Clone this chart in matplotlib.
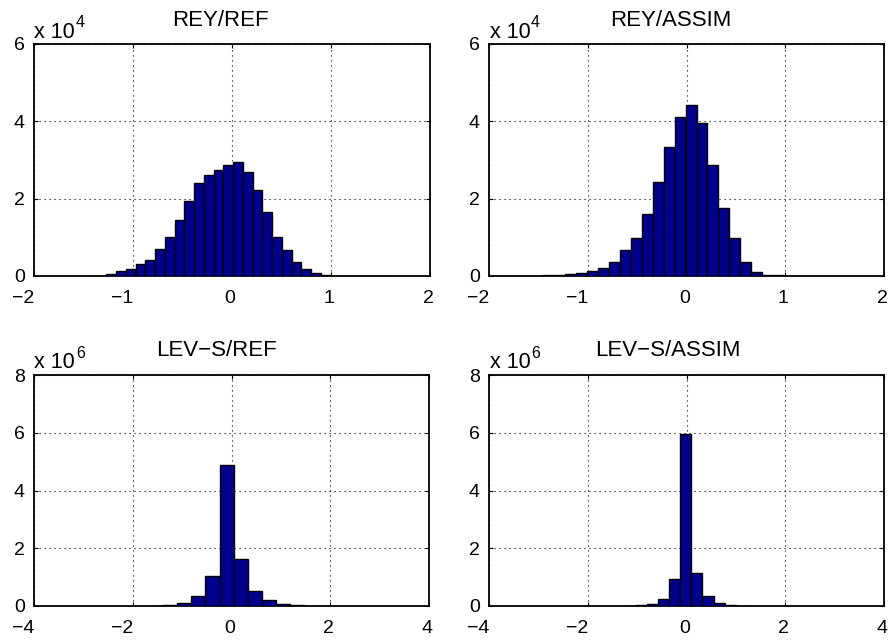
import matplotlib
matplotlib.use("Agg")
import matplotlib.pyplot as plt
from matplotlib.transforms import ScaledTranslation

plt.rcParams['font.family'] = ['Liberation Sans', 'DejaVu Sans']

# ---- data (counts in units of the axis multiplier) ----
rey_ref_centers = [-1.418, -1.319, -1.221, -1.122, -1.024, -0.925, -0.827, -0.728, -0.630,
                   -0.531, -0.433, -0.334, -0.236, -0.137, -0.039, 0.060, 0.158, 0.257,
                   0.355, 0.454, 0.552, 0.651, 0.749, 0.848, 0.946, 1.045, 1.143, 1.242,
                   1.340, 1.439, 1.537]
rey_ref_counts = [0.004, 0.008, 0.04, 0.12, 0.19, 0.30, 0.41, 0.70, 1.00, 1.45, 1.93, 2.41,
                  2.61, 2.73, 2.86, 2.96, 2.68, 2.23, 1.65, 1.00, 0.67, 0.36, 0.17, 0.07,
                  0.02, 0.012, 0.008, 0.005, 0.004, 0.003, 0.002]
rey_ref_width = 0.0985

rey_assim_centers = [-1.842, -1.731, -1.620, -1.509, -1.398, -1.287, -1.176, -1.065, -0.954,
                     -0.843, -0.732, -0.621, -0.510, -0.399, -0.288, -0.177, -0.066, 0.046,
                     0.157, 0.268, 0.379, 0.490, 0.601, 0.712, 0.823, 0.934, 1.045, 1.156]
rey_assim_counts = [0.002, 0.003, 0.005, 0.008, 0.015, 0.03, 0.06, 0.09, 0.13, 0.21, 0.36,
                    0.66, 0.99, 1.60, 2.43, 3.34, 4.10, 4.41, 3.95, 2.86, 1.76, 0.99, 0.35,
                    0.10, 0.03, 0.02, 0.01, 0.005]
rey_assim_width = 0.111

lev_ref_centers = [-1.521, -1.237, -0.953, -0.669, -0.385, -0.101, 0.183, 0.467, 0.751,
                   1.035, 1.319, 1.603, 1.887]
lev_ref_counts = [0.01, 0.03, 0.10, 0.35, 1.04, 4.88, 1.64, 0.51, 0.20, 0.08, 0.03, 0.015,
                  0.008]
lev_ref_width = 0.284

lev_assim_centers = [-1.145, -0.919, -0.693, -0.467, -0.241, -0.015, 0.211, 0.437, 0.663,
                     0.889, 1.115, 1.341]
lev_assim_counts = [0.008, 0.02, 0.08, 0.25, 0.93, 5.97, 1.14, 0.35, 0.12, 0.05, 0.015, 0.007]
lev_assim_width = 0.226

titles = ['REY/REF', 'REY/ASSIM', 'LEV\u2212S/REF', 'LEV\u2212S/ASSIM']
exponents = ['4', '4', '6', '6']
top_xticks = [-2, -1, 0, 1, 2]
top_yticks = [0, 2, 4, 6]
bot_xticks = [-4, -2, 0, 2, 4]
bot_yticks = [0, 2, 4, 6, 8]

W, H = 889, 640
fig = plt.figure(figsize=(W / 100, H / 100), dpi=100)

def box(l, r, t, b):
    return [l / W, 1 - b / H, (r - l) / W, (b - t) / H]

def ftext(x, y, s, **kw):
    return fig.text(x / W, 1 - y / H, s, **kw)

# layout in pixels: (left, right, top, bottom), title centre x, title baseline y
layout = [((34, 430, 44, 276), 220, 26),
          ((489, 884, 44, 276), 671, 26),
          ((34, 429, 375, 606), 216, 356.5),
          ((489, 884, 375, 606), 668, 356.5)]
series = [(rey_ref_centers, rey_ref_counts, rey_ref_width),
          (rey_assim_centers, rey_assim_counts, rey_assim_width),
          (lev_ref_centers, lev_ref_counts, lev_ref_width),
          (lev_assim_centers, lev_assim_counts, lev_assim_width)]

for i, ((rect, tx, ty), (c, h, w)) in enumerate(zip(layout, series)):
    l, r, t, b = rect
    ax = fig.add_axes(box(l, r, t, b))
    ax.bar(c, h, width=w, color='#00008F', edgecolor='black', linewidth=1.0, zorder=3)
    if i < 2:
        xt, yt = top_xticks, top_yticks
    else:
        xt, yt = bot_xticks, bot_yticks
    ax.set_xlim(xt[0], xt[-1])
    ax.set_ylim(yt[0], yt[-1])
    ax.set_xticks(xt)
    ax.set_yticks(yt)
    ax.grid(True, color='black', linestyle=(0, (1, 3.5)), linewidth=0.8, zorder=0)
    ax.set_axisbelow(True)
    ax.tick_params(direction='in', top=True, right=True, length=3, width=0.8,
                   labelsize=14)
    ax.tick_params(axis='x', pad=10)
    ax.tick_params(axis='y', pad=6.5)
    for s in ax.spines.values():
        s.set_linewidth(1.3)
    for val, lab in zip(xt, ax.get_xticklabels()):
        dx = -11 if val < 0 else -2
        lab.set_transform(lab.get_transform() +
                          ScaledTranslation(dx / 100, 0, fig.dpi_scale_trans))
    # title
    ftext(tx, ty, titles[i], fontsize=16, ha='center', va='baseline')
    # multiplier label
    ftext(l + 0.5, t - 6.5, 'x 10', fontsize=15.5, ha='left', va='baseline')
    ftext(l + 42, t - 17, exponents[i], fontsize=11.5, ha='left', va='baseline')

fig.savefig('out.png', dpi=100)
